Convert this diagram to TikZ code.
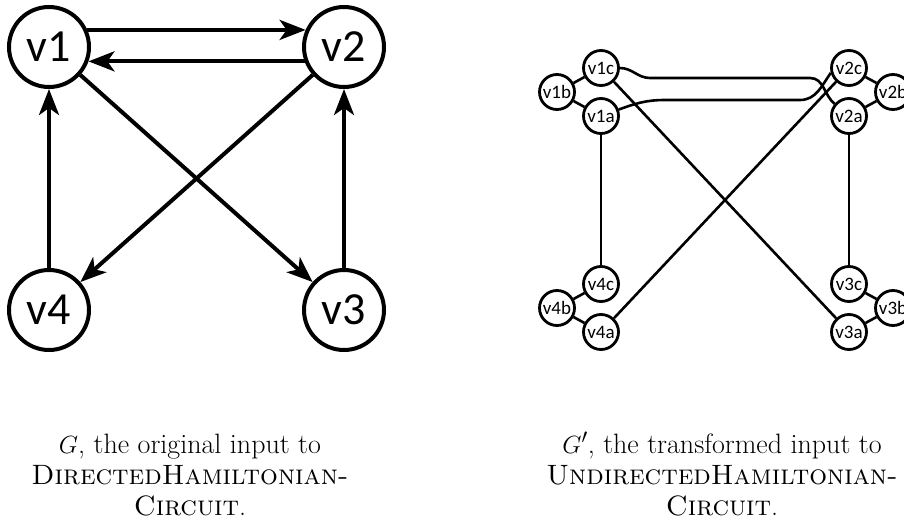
\documentclass[tikz,border=0pt]{standalone}
\usepackage{fontspec}
\newfontfamily\labelfont{Carlito}
\usetikzlibrary{arrows.meta}
\begin{document}
\begin{tikzpicture}[x=1pt,y=1pt,
  bigvertex/.style={circle, draw, line width=4pt, minimum size=80pt, inner sep=0pt,
    font=\labelfont\fontsize{46}{46}\selectfont},
  smallvertex/.style={circle, draw, line width=2.8pt, minimum size=35pt, inner sep=0pt,
    font=\labelfont\fontsize{19}{19}\selectfont},
  arc/.style={line width=4pt, -{Stealth[length=26pt,width=20pt,inset=7pt]}},
  link/.style={line width=2.6pt},
  caption/.style={align=center, font=\fontsize{28}{31}\selectfont, anchor=base, inner sep=0pt}
]
\useasboundingbox (0,0) rectangle (904,-519);

% ---- directed graph G ----
\node[bigvertex] (v1) at (49,-47)  {v1};
\node[bigvertex] (v2) at (344,-47) {v2};
\node[bigvertex] (v3) at (344,-310) {v3};
\node[bigvertex] (v4) at (49,-310) {v4};

\draw[arc] (v1.24) -- (v2.156);
\draw[arc] (v2.-160) -- (v1.-20);
\draw[arc] (v1) -- (v3);
\draw[arc] (v2) -- (v4);
\draw[arc] (v4) -- (v1);
\draw[arc] (v3) -- (v2);

% ---- undirected graph G' ----
\node[smallvertex] (v1c) at (601,-68)  {v1c};
\node[smallvertex] (v1b) at (557,-92)  {v1b};
\node[smallvertex] (v1a) at (601,-116) {v1a};
\node[smallvertex] (v2c) at (849,-68)  {v2c};
\node[smallvertex] (v2b) at (893,-92)  {v2b};
\node[smallvertex] (v2a) at (849,-116) {v2a};
\node[smallvertex] (v4c) at (601,-284) {v4c};
\node[smallvertex] (v4b) at (557,-308) {v4b};
\node[smallvertex] (v4a) at (601,-332) {v4a};
\node[smallvertex] (v3c) at (849,-284) {v3c};
\node[smallvertex] (v3b) at (893,-308) {v3b};
\node[smallvertex] (v3a) at (849,-332) {v3a};

\draw[link] (v1c) -- (v1b) -- (v1a);
\draw[link] (v2c) -- (v2b) -- (v2a);
\draw[link] (v4c) -- (v4b) -- (v4a);
\draw[link] (v3c) -- (v3b) -- (v3a);
\draw[link] (v1a) -- (v4c);
\draw[link] (v2a) -- (v3c);
\draw[link] (v1c) -- (v3a);
\draw[link] (v4a) -- (v2c);

% long bent links across the top
\coordinate (ua) at (650,-78);
\coordinate (ub) at (810,-78);
\coordinate (la) at (665,-100);
\coordinate (lb) at (800,-100);
\draw[link] (v1c.east) to[out=0,in=180] (ua) -- (ub) to[out=0,in=140] (v2a.140);
\draw[link] (v1a.20) to[out=20,in=180] (la) -- (lb) to[out=0,in=235] (v2c.195);

% ---- captions ----
\node[caption] (capL) at (190,-515)
  {$G$, the original input to\\ \textsc{DirectedHamiltonian-}\\ \textsc{Circuit}.};
\node[caption] (capR) at (722,-515)
  {$G'$, the transformed input to\\ \textsc{UndirectedHamiltonian-}\\ \textsc{Circuit}.};
\end{tikzpicture}
\end{document}
